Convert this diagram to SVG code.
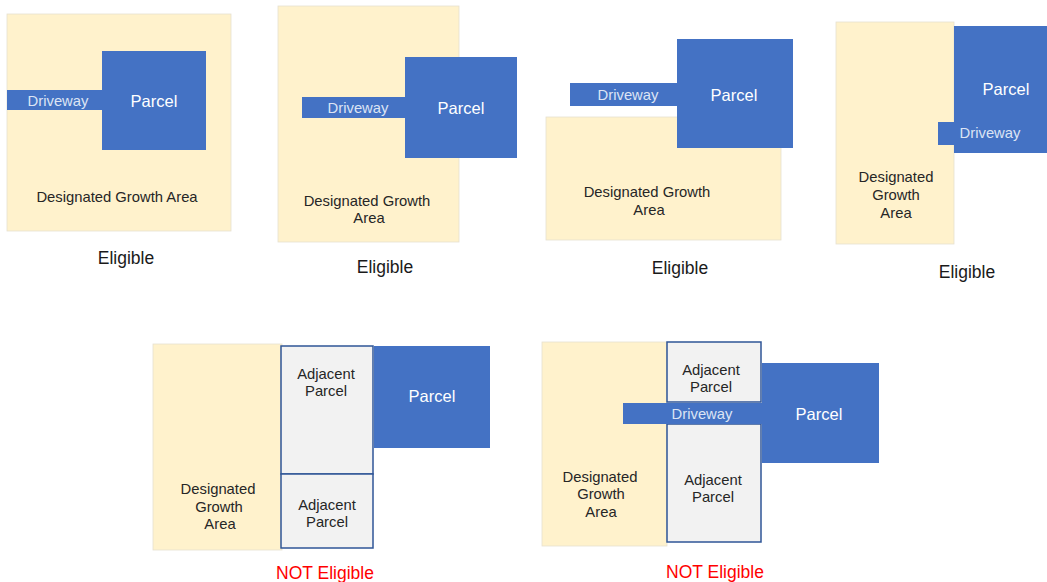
<svg xmlns="http://www.w3.org/2000/svg" width="1047" height="582" viewBox="0 0 1047 582">
<style>
.area{fill:#FFF2CC;stroke:#E6E0D0;stroke-width:0.8}
.parcel{fill:#4472C4}
.adj{fill:#F2F2F2;stroke:#2F5597;stroke-width:1.5}
text{font-family:"Liberation Sans",Arial,sans-serif;text-anchor:middle}
.lbl{font-size:14.8px;fill:#262626}
.pt{font-size:16.5px;fill:#FFFFFF}
.dt{font-size:14.8px;fill:#DCE4F4}
.ok{font-size:17.5px;fill:#1A1A1A}
.no{font-size:17.5px;fill:#FF0000}
</style>
<rect width="1047" height="582" fill="#FFFFFF"/>
<g id="panel1">
<rect class="area" x="7" y="14" width="224" height="217"/>
<rect class="parcel" x="102" y="51" width="104" height="99"/>
<rect class="parcel" x="7" y="90" width="96" height="20"/>
<text class="dt" x="58" y="106">Driveway</text>
<text class="pt" x="154" y="107">Parcel</text>
<text class="lbl" x="117" y="202">Designated Growth Area</text>
<text class="ok" x="126" y="264">Eligible</text>
</g>
<g id="panel2">
<rect class="area" x="278" y="6" width="181" height="236"/>
<rect class="parcel" x="405" y="57" width="112" height="101"/>
<rect class="parcel" x="302" y="97" width="104" height="21"/>
<text class="dt" x="358" y="113">Driveway</text>
<text class="pt" x="461" y="114">Parcel</text>
<text class="lbl" x="367" y="206">Designated Growth</text>
<text class="lbl" x="369" y="223">Area</text>
<text class="ok" x="385" y="273">Eligible</text>
</g>
<g id="panel3">
<rect class="area" x="546" y="117" width="235" height="123"/>
<rect class="parcel" x="677" y="39" width="116" height="109"/>
<rect class="parcel" x="570" y="83" width="108" height="23"/>
<text class="dt" x="628" y="100">Driveway</text>
<text class="pt" x="734" y="101">Parcel</text>
<text class="lbl" x="647" y="197">Designated Growth</text>
<text class="lbl" x="649" y="215">Area</text>
<text class="ok" x="680" y="274">Eligible</text>
</g>
<g id="panel4">
<rect class="area" x="836" y="22" width="118" height="222"/>
<rect class="parcel" x="954" y="26" width="93" height="127"/>
<rect class="parcel" x="938" y="122" width="17" height="23"/>
<text class="pt" x="1006" y="95">Parcel</text>
<text class="dt" x="990" y="138">Driveway</text>
<text class="lbl" x="896" y="182">Designated</text>
<text class="lbl" x="896" y="200">Growth</text>
<text class="lbl" x="896" y="218">Area</text>
<text class="ok" x="967" y="278">Eligible</text>
</g>
<g id="panel5">
<rect class="area" x="153" y="344" width="129" height="206"/>
<rect class="adj" x="281" y="346" width="92" height="128"/>
<rect class="adj" x="281" y="474" width="92" height="74"/>
<rect class="parcel" x="374" y="346" width="116" height="102"/>
<text class="lbl" x="326" y="379">Adjacent</text>
<text class="lbl" x="326" y="396">Parcel</text>
<text class="lbl" x="327" y="510">Adjacent</text>
<text class="lbl" x="327" y="527">Parcel</text>
<text class="pt" x="432" y="402">Parcel</text>
<text class="lbl" x="218" y="494">Designated</text>
<text class="lbl" x="219" y="512">Growth</text>
<text class="lbl" x="220" y="529">Area</text>
<text class="no" x="325" y="579">NOT Eligible</text>
</g>
<g id="panel6">
<rect class="area" x="542" y="342" width="125" height="204"/>
<rect class="adj" x="667" y="342" width="94" height="60"/>
<rect class="adj" x="667" y="424" width="94" height="118"/>
<rect class="parcel" x="762" y="363" width="117" height="100"/>
<rect class="parcel" x="623" y="403" width="140" height="21"/>
<text class="lbl" x="711" y="375">Adjacent</text>
<text class="lbl" x="711" y="392">Parcel</text>
<text class="dt" x="702" y="419">Driveway</text>
<text class="pt" x="819" y="420">Parcel</text>
<text class="lbl" x="713" y="485">Adjacent</text>
<text class="lbl" x="713" y="502">Parcel</text>
<text class="lbl" x="600" y="482">Designated</text>
<text class="lbl" x="601" y="499">Growth</text>
<text class="lbl" x="601" y="517">Area</text>
<text class="no" x="715" y="578">NOT Eligible</text>
</g>
<g id="connectors"></g>
</svg>
